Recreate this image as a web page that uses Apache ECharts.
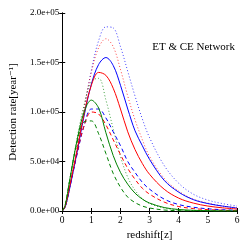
<!DOCTYPE html>
<html>
<head>
<meta charset="utf-8">
<script src="https://cdn.jsdelivr.net/npm/echarts@6/dist/echarts.min.js"></script>
<style>html,body{margin:0;padding:0;background:#fff}#c{width:249px;height:249px}</style>
</head>
<body>
<div id="c"></div>
<script>
// redshift sample points
var redshift = [0, 0.1, 0.25, 0.5, 0.75, 1.0, 1.25, 1.5, 1.75, 2.0, 2.25, 2.5, 2.75, 3.0, 3.5, 4.0, 4.5, 5.0, 5.5, 6.0];
// detection rates [year^-1]
var blueSolid  = [0, 4000, 22000, 58000, 96000, 128000, 148000, 155000, 147000, 127000, 103000, 81000, 66000, 52000, 31000, 19000, 11500, 7500, 5000, 3000];
var blueDashed = [0, 4000, 23000, 56000, 86000, 103000, 103000, 94000, 80000, 66000, 50000, 39000, 29000, 22000, 12000, 6500, 3800, 2200, 1300, 800];
var blueDotted = [0, 4000, 22000, 60000, 102000, 142000, 172000, 186000, 185000, 166000, 141000, 116000, 93000, 74000, 46000, 28000, 17000, 11000, 7500, 5000];
var redSolid   = [0, 4500, 24000, 60000, 98000, 127000, 140000, 137000, 124000, 103000, 80000, 62000, 48000, 37000, 22000, 13000, 8000, 5000, 3200, 2000];
var redDashed  = [0, 4500, 24000, 57000, 86000, 100000, 98000, 87000, 72000, 57000, 43000, 32000, 23000, 17000, 9000, 4500, 2500, 1400, 800, 500];
var redDotted  = [0, 4500, 23000, 62000, 104000, 140000, 165000, 174000, 166000, 143000, 116000, 92000, 72000, 55000, 33000, 20000, 12000, 8000, 5000, 3500];
var greenSolid  = [0, 5500, 30000, 70000, 100000, 112000, 104000, 79000, 56000, 39000, 27000, 18000, 12000, 8000, 3500, 1500, 700, 300, 100, 0];
var greenDashed = [0, 5500, 30000, 68000, 90000, 91000, 78000, 58000, 38000, 24000, 14000, 8500, 5000, 3000, 1000, 300, 100, 0, 0, 0];
var greenDotted = [0, 5500, 30000, 72000, 107000, 131000, 134000, 112000, 83000, 55000, 34000, 21000, 12500, 7500, 3000, 1000, 400, 100, 0, 0];
var xTicks = [0, 1, 2, 3, 4, 5, 6];
var yTickLabels = ['0.0e+00', '5.0e+04', '1.0e+05', '1.5e+05', '2.0e+05'];

function pairs(vals) { return redshift.map(function (z, i) { return [z, vals[i]]; }); }

var FONT = '"Liberation Serif","DejaVu Serif",serif';
var DASH = [4, 3], DOT = [1, 2.2];
function ser(vals, color, type) {
  return {
    type: 'line', data: pairs(vals), showSymbol: false, smooth: 0.35,
    lineStyle: { color: color, width: 1, type: type, opacity: type === DOT ? 0.75 : 1 }, z: 2, silent: true
  };
}
var chart = echarts.init(document.getElementById('c'), null, { renderer: 'canvas' });
var axisCommon = {
  axisLine: { show: true, lineStyle: { color: '#000', width: 1 } },
  axisTick: { show: true, inside: true, length: 3, lineStyle: { color: '#000' } },
  splitLine: { show: false }
};
chart.setOption({
  animation: false,
  backgroundColor: '#fff',
  grid: { left: 61, right: 12, top: 13, bottom: 38 },
  xAxis: [
    Object.assign({
      type: 'value', min: 0, max: 6, interval: 1, position: 'bottom',
      name: 'redshift[z]', nameLocation: 'middle', nameGap: 17,
      nameTextStyle: { fontFamily: FONT, fontSize: 11, color: '#000' },
      axisLabel: { fontFamily: FONT, fontSize: 9.5, color: '#000', margin: 4,
        formatter: function (v) { return xTicks.indexOf(v) >= 0 ? String(v) : ''; } }
    }, axisCommon),
    Object.assign({
      type: 'value', min: 0, max: 6, interval: 1, position: 'top',
      axisLabel: { show: false }
    }, axisCommon)
  ],
  yAxis: [
    Object.assign({
      type: 'value', min: 0, max: 200000, interval: 50000, position: 'left',
      name: 'Detection rate[year\u207B\u00B9]', nameLocation: 'middle', nameGap: 42,
      nameTextStyle: { fontFamily: FONT, fontSize: 11, color: '#000' },
      axisLabel: { fontFamily: FONT, fontSize: 9, color: '#000', margin: 3,
        formatter: function (v) { return yTickLabels[Math.round(v / 50000)]; } }
    }, axisCommon),
    Object.assign({
      type: 'value', min: 0, max: 200000, interval: 50000, position: 'right',
      axisLabel: { show: false }
    }, axisCommon)
  ],
  graphic: [{
    type: 'text', right: 14, top: 42,
    style: { text: 'ET & CE Network', fontFamily: FONT, fontSize: 11, fill: '#000' }
  }],
  series: [
    ser(blueDotted, '#0000ff', DOT),
    ser(redDotted, '#ff0000', DOT),
    ser(greenDotted, '#008000', DOT),
    ser(blueDashed, '#0000ff', DASH),
    ser(redDashed, '#ff0000', DASH),
    ser(greenDashed, '#008000', DASH),
    ser(blueSolid, '#0000ff', 'solid'),
    ser(redSolid, '#ff0000', 'solid'),
    ser(greenSolid, '#008000', 'solid')
  ]
});
</script>
</body>
</html>
